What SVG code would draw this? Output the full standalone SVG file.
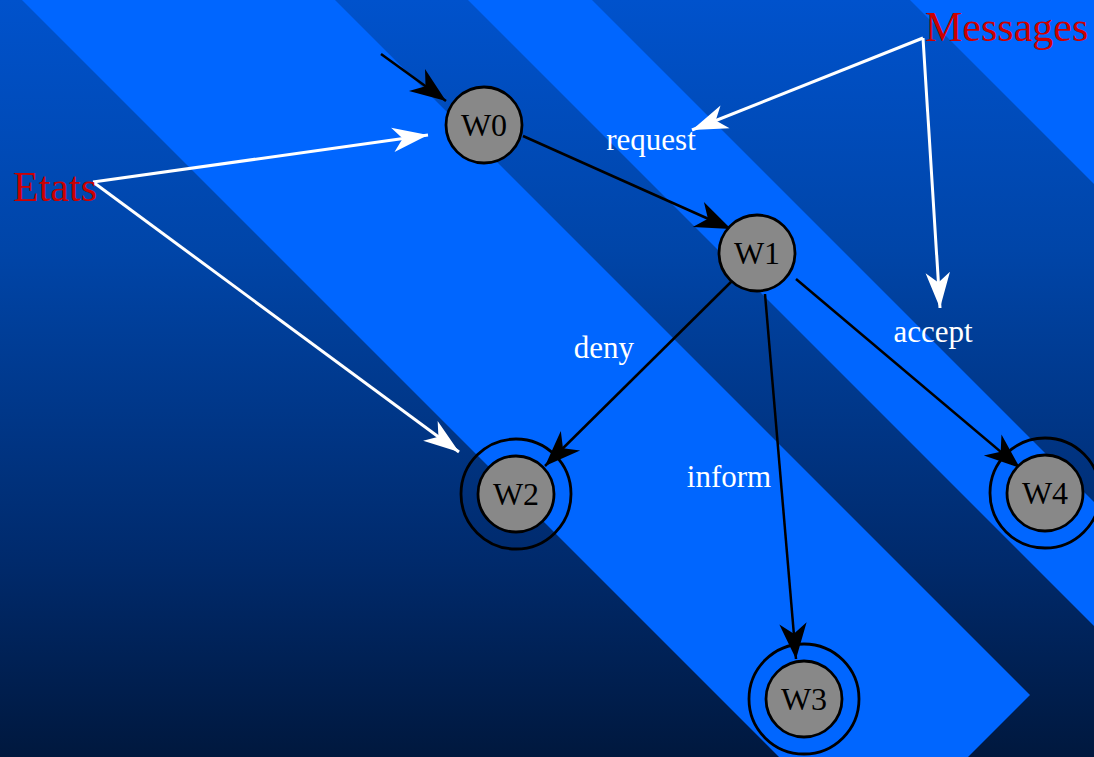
<svg xmlns="http://www.w3.org/2000/svg" width="1094" height="757" viewBox="0 0 1094 757">
<defs>
<linearGradient id="bg" x1="0" y1="0" x2="0" y2="1">
<stop offset="0" stop-color="#0052cc"/>
<stop offset="0.33" stop-color="#0045a8"/>
<stop offset="0.74" stop-color="#002a6c"/>
<stop offset="1" stop-color="#00183e"/>
</linearGradient>
<marker id="ab" markerUnits="userSpaceOnUse" markerWidth="40" markerHeight="32" viewBox="-36 -15 38 30" refX="0" refY="0" orient="auto">
<path d="M0,0 L-34,-13 L-24,0 L-34,13 Z" fill="#000"/>
</marker>
<marker id="aw" markerUnits="userSpaceOnUse" markerWidth="40" markerHeight="30" viewBox="-34 -13 36 26" refX="0" refY="0" orient="auto">
<path d="M0,0 L-32,-11 L-23,0 L-32,11 Z" fill="#fff"/>
</marker>
<style>
.stripe{fill:#0066ff}
.node{fill:#888888;stroke:#000;stroke-width:2.8}
.ring{fill:none;stroke:#000;stroke-width:2.8}
.nl{font-family:"Liberation Serif","Times New Roman",serif;font-size:32px;fill:#000;text-anchor:middle}
.edge{stroke:#000;stroke-width:2.5;fill:none;marker-end:url(#ab)}
.note{stroke:#fff;stroke-width:3;fill:none;marker-end:url(#aw)}
.el{font-family:"Liberation Serif","Times New Roman",serif;font-size:31px;fill:#fff;text-anchor:middle}
.cap{font-family:"Liberation Serif","Times New Roman",serif;font-size:42px;fill:#cc0000}
</style>
</defs>
<rect x="0" y="0" width="1094" height="757" fill="url(#bg)"/>
<g id="background-stripes">
<polygon class="stripe" points="22,0 335,0 1030,695 968,757 779,757"/>
<polygon class="stripe" points="468,0 592,0 1094,502 1094,626"/>
<polygon class="stripe" points="910,0 1094,0 1094,184"/>
</g>
<g id="connectors">
<line class="edge" x1="381" y1="54" x2="446" y2="101"/>
<line class="edge" x1="523" y1="136" x2="731" y2="229"/>
<line class="edge" x1="733" y1="280" x2="545" y2="466"/>
<line class="edge" x1="765" y1="294" x2="796" y2="659"/>
<line class="edge" x1="796" y1="279" x2="1020" y2="468"/>
<line class="note" x1="93" y1="182" x2="428" y2="135"/>
<line class="note" x1="93" y1="182" x2="459" y2="452"/>
<line class="note" x1="923" y1="38" x2="692" y2="130"/>
<line class="note" x1="923" y1="38" x2="940" y2="308"/>
</g>
<g id="edge-labels">
<text class="el" x="651" y="150">request</text>
<text class="el" x="604" y="358">deny</text>
<text class="el" x="729" y="487">inform</text>
<text class="el" x="933" y="342">accept</text>
</g>
<g id="annotations">
<text class="cap" x="13" y="201">Etats</text>
<text class="cap" x="925" y="41">Messages</text>
</g>
<g id="W0">
<circle class="node" cx="484" cy="125" r="38"/>
<text class="nl" x="484" y="136">W0</text>
</g>
<g id="W1">
<circle class="node" cx="757" cy="253" r="38"/>
<text class="nl" x="757" y="264">W1</text>
</g>
<g id="W2">
<circle class="ring" cx="516" cy="494" r="55"/>
<circle class="node" cx="516" cy="494" r="38"/>
<text class="nl" x="516" y="505">W2</text>
</g>
<g id="W3">
<circle class="ring" cx="804" cy="699" r="55"/>
<circle class="node" cx="804" cy="699" r="38"/>
<text class="nl" x="804" y="710">W3</text>
</g>
<g id="W4">
<circle class="ring" cx="1045" cy="493" r="55"/>
<circle class="node" cx="1045" cy="493" r="38"/>
<text class="nl" x="1045" y="504">W4</text>
</g>
</svg>
